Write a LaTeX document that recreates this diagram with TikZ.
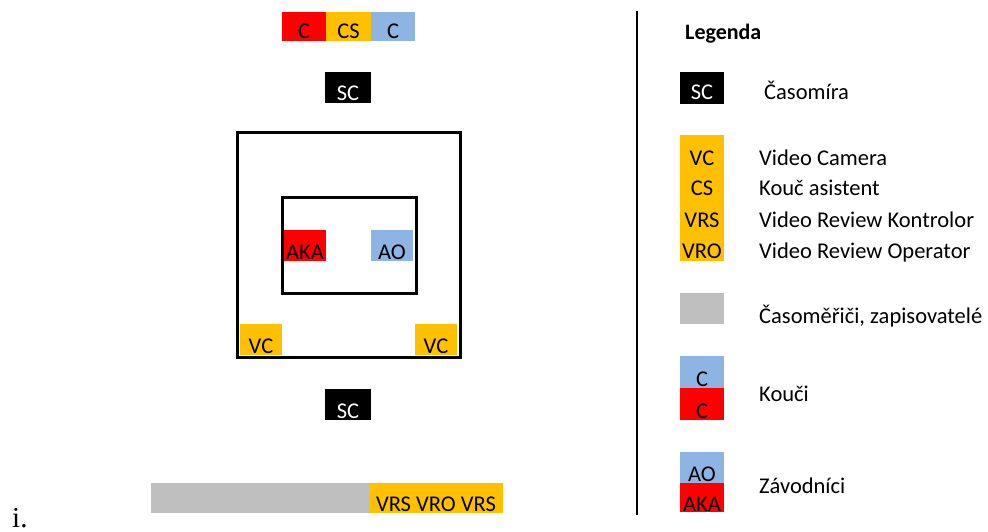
\documentclass[tikz,border=0pt]{standalone}
\usepackage{fontspec}
\setmainfont{Carlito}
\newfontfamily\serifi{Liberation Serif}
\definecolor{cred}{HTML}{FF0000}
\definecolor{corange}{HTML}{FFC000}
\definecolor{cblue}{HTML}{8EB4E3}
\definecolor{cgray}{HTML}{BFBFBF}
\begin{document}
\begin{tikzpicture}[x=1pt,y=-1pt,
  every node/.style={font=\fontsize{22.5}{26}\selectfont},
  cell/.style={anchor=north west, inner sep=0pt, outer sep=0pt, text depth=2pt, align=center},
  lbl/.style={anchor=base west, inner sep=0pt},
  ctr/.style={anchor=base, inner sep=0pt},
  frame/.style={draw=black, line width=3pt}]
\useasboundingbox (0,0) rectangle (988,532);
% top row
\node[cell, fill=cred, minimum width=44pt, text height=27pt] (c1) at (282,12) {C};
\node[cell, fill=corange, minimum width=45pt, text height=27pt] (cs) at (326,12) {CS};
\node[cell, fill=cblue, minimum width=44pt, text height=27pt] (c2) at (371,12) {C};
% SC top
\node[cell, fill=black, text=white, minimum width=46pt, text height=29pt] (sc1) at (325,72) {SC};
% frames
\draw[frame] (237,133) rectangle (460,357);
\draw[frame] (282,197) rectangle (416,293);
\node[cell, fill=cred, minimum width=42pt, text height=29pt] (aka) at (284,230) {AKA};
\node[cell, fill=cblue, minimum width=42pt, text height=29pt] (ao) at (371,230) {AO};
\node[cell, fill=corange, minimum width=42pt, text height=29pt] (vc1) at (240,324) {VC};
\node[cell, fill=corange, minimum width=42pt, text height=29pt] (vc2) at (415,324) {VC};
% SC bottom
\node[cell, fill=black, text=white, minimum width=46pt, text height=29pt] (sc2) at (325,389) {SC};
% bottom bar
\node[cell, fill=cgray, minimum width=218pt, text height=28pt] (gray) at (151,483) {};
\node[cell, fill=corange, minimum width=134pt, text height=28pt] (vr) at (369,483) {VRS VRO VRS};
\node[anchor=base west, inner sep=0pt, font=\serifi\fontsize{29}{32}\selectfont] (ii) at (12,527) {i.};
% divider
\coordinate (d1) at (637,11);
\coordinate (d2) at (637,515);
\draw[line width=2pt] (d1) -- (d2);
% legend
\node[lbl, font=\bfseries\fontsize{22}{26}\selectfont] (leg) at (685,40) {Legenda};
\node[cell, fill=black, text=white, minimum width=44pt, text height=28pt, text depth=4pt] (lsc) at (680,72) {SC};
\node[lbl] (t1) at (764,100) {Časomíra};
\node[cell, fill=corange, minimum width=44pt, minimum height=126pt] (lor) at (680,135) {};
\node[ctr] (lvc) at (702,165) {VC};
\node[ctr] (lcs) at (702,195) {CS};
\node[ctr] (lvrs) at (702,227) {VRS};
\node[ctr] (lvro) at (702,258) {VRO};
\node[lbl] (t2) at (759,165) {Video Camera};
\node[lbl] (t3) at (759,195) {Kouč asistent};
\node[lbl] (t4) at (759,227) {Video Review Kontrolor};
\node[lbl] (t5) at (759,258) {Video Review Operator};
\node[cell, fill=cgray, minimum width=44pt, minimum height=31pt] (lgr) at (680,293) {};
\node[lbl] (t6) at (759,323) {Časoměřiči, zapisovatelé};
\node[cell, fill=cblue, minimum width=44pt, text height=30pt] (lcb) at (680,356) {C};
\node[cell, fill=cred, minimum width=44pt, text height=30pt] (lcr) at (680,388) {C};
\node[lbl] (t7) at (759,401) {Kouči};
\node[cell, fill=cblue, minimum width=44pt, text height=29pt] (lab) at (680,452) {AO};
\node[cell, fill=cred, minimum width=44pt, text height=28pt, text depth=1pt] (lar) at (680,483) {AKA};
\node[lbl] (t8) at (759,493) {Závodníci};
\end{tikzpicture}
\end{document}
